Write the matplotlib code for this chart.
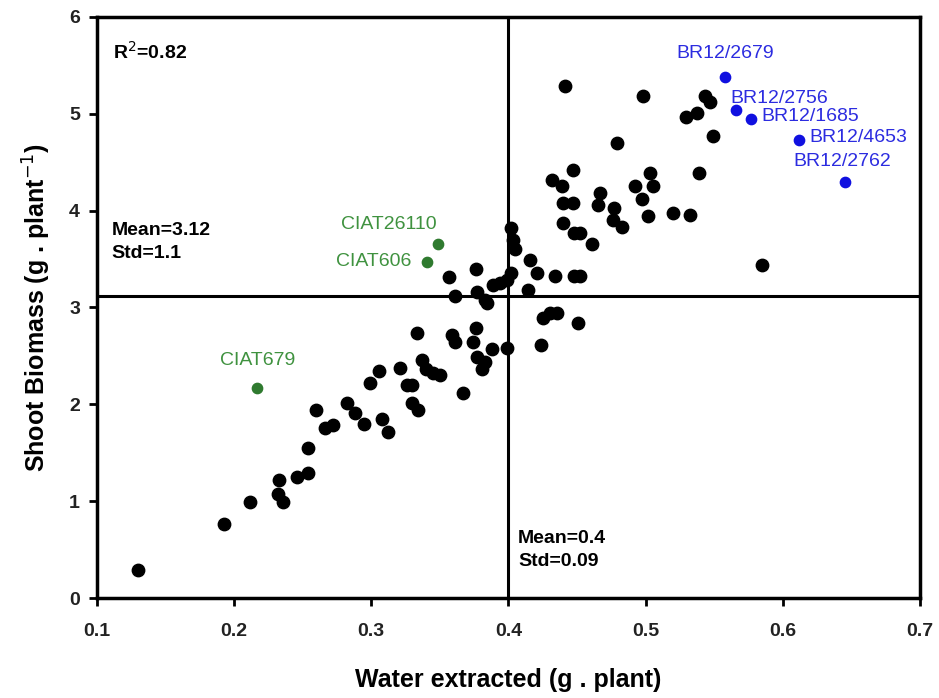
import matplotlib
matplotlib.use("Agg")
import matplotlib.pyplot as plt

plt.rcParams['font.family'] = ['Liberation Sans', 'DejaVu Sans']

# Datos: agua extraida (g/planta) y biomasa aerea (g/planta)
water = [0.130, 0.193, 0.212, 0.232, 0.236, 0.233, 0.246, 0.254, 0.254, 0.260,
         0.266, 0.272, 0.282, 0.288, 0.295, 0.299, 0.306, 0.308, 0.312, 0.321,
         0.326, 0.330, 0.330, 0.334, 0.333, 0.337, 0.340, 0.345, 0.350, 0.359,
         0.361, 0.367, 0.376, 0.374, 0.377, 0.383, 0.381, 0.388, 0.399, 0.357,
         0.376, 0.361, 0.377, 0.383, 0.389, 0.394, 0.399, 0.402, 0.402, 0.403,
         0.405, 0.416, 0.414, 0.421, 0.434, 0.448, 0.452, 0.424, 0.425, 0.430,
         0.435, 0.451, 0.441, 0.498, 0.543, 0.547, 0.529, 0.537, 0.549, 0.479,
         0.447, 0.432, 0.439, 0.440, 0.447, 0.440, 0.448, 0.452, 0.467, 0.465,
         0.477, 0.476, 0.483, 0.492, 0.497, 0.503, 0.505, 0.502, 0.520, 0.532,
         0.539, 0.461, 0.585, 0.384]
biomass = [0.29, 0.77, 0.99, 1.07, 0.99, 1.22, 1.25, 1.29, 1.55, 1.94,
           1.76, 1.79, 2.01, 1.91, 1.80, 2.22, 2.34, 1.85, 1.71, 2.38,
           2.20, 2.20, 2.01, 1.94, 2.74, 2.46, 2.36, 2.32, 2.30, 2.72,
           2.64, 2.12, 2.79, 2.64, 2.49, 2.44, 2.36, 2.57, 2.58, 3.31,
           3.40, 3.12, 3.16, 3.08, 3.23, 3.25, 3.28, 3.36, 3.82, 3.70,
           3.60, 3.49, 3.18, 3.36, 3.32, 3.32, 3.32, 2.61, 2.89, 2.94,
           2.94, 2.84, 5.29, 5.18, 5.18, 5.12, 4.97, 5.01, 4.77, 4.70,
           4.42, 4.32, 4.25, 4.08, 4.08, 3.87, 3.77, 3.77, 4.18, 4.06,
           4.03, 3.90, 3.83, 4.25, 4.12, 4.39, 4.25, 3.94, 3.98, 3.95,
           4.39, 3.65, 3.44, 3.05]

# Genotipos destacados
ciat_names = ['CIAT26110', 'CIAT606', 'CIAT679']
ciat_x = [0.349, 0.341, 0.217]
ciat_y = [3.65, 3.47, 2.17]

br_names = ['BR12/2679', 'BR12/2756', 'BR12/1685', 'BR12/4653', 'BR12/2762']
br_x = [0.558, 0.566, 0.577, 0.612, 0.645]
br_y = [5.38, 5.04, 4.95, 4.73, 4.29]

mean_x, std_x = 0.4, 0.09
mean_y, std_y = 3.12, 1.1
r2 = 0.82

fig = plt.figure(figsize=(9.39, 6.98), dpi=100)
ax = fig.add_axes([0.103, 0.143, 0.877, 0.833])

ax.axvline(mean_x, color='black', lw=2.2, zorder=1)
ax.axhline(mean_y, color='black', lw=2.2, zorder=1)

ax.scatter(water, biomass, s=80, color='black', zorder=3)
ax.scatter(ciat_x, ciat_y, s=55, color='#2f7a2f', zorder=3)
ax.scatter(br_x, br_y, s=55, color='#1010e0', zorder=3)

# etiquetas de genotipos
green_lab = '#3f923f'
blue_lab = '#2c2ce0'
lab_fs = 14
ax.text(ciat_x[0] - 0.001, ciat_y[0] + 0.12, ciat_names[0], color=green_lab,
        fontsize=lab_fs, ha='right', va='bottom')
ax.text(ciat_x[1] - 0.012, ciat_y[1], ciat_names[1], color=green_lab,
        fontsize=lab_fs, ha='right', va='center')
ax.text(ciat_x[2], ciat_y[2] + 0.2, ciat_names[2], color=green_lab,
        fontsize=lab_fs, ha='center', va='bottom')

ax.text(br_x[0], br_y[0] + 0.15, br_names[0], color=blue_lab,
        fontsize=lab_fs, ha='center', va='bottom')
ax.text(br_x[1] - 0.004, br_y[1] + 0.03, br_names[1], color=blue_lab,
        fontsize=lab_fs, ha='left', va='bottom')
ax.text(br_x[2] + 0.007, br_y[2] + 0.02, br_names[2], color=blue_lab,
        fontsize=lab_fs, ha='left', va='center')
ax.text(br_x[3] + 0.007, br_y[3] + 0.02, br_names[3], color=blue_lab,
        fontsize=lab_fs, ha='left', va='center')
ax.text(br_x[4] - 0.002, br_y[4] + 0.13, br_names[4], color=blue_lab,
        fontsize=lab_fs, ha='center', va='bottom')

# estadisticas
ax.text(0.112, 5.64, 'R$^2$=%.2f' % r2, fontsize=14, fontweight='bold', va='center')
ax.text(0.111, 3.88, 'Mean=%.2f\nStd=%.1f' % (mean_y, std_y), fontsize=14,
        fontweight='bold', va='top', linespacing=1.45)
ax.text(0.407, 0.70, 'Mean=%.1f\nStd=%.2f' % (mean_x, std_x), fontsize=14,
        fontweight='bold', va='top', linespacing=1.45)

ax.set_xlim(0.1, 0.7)
ax.set_ylim(0, 6)
ax.set_xticks([0.1, 0.2, 0.3, 0.4, 0.5, 0.6, 0.7])
ax.set_yticks([0, 1, 2, 3, 4, 5, 6])
ax.set_xticklabels(['0.1', '0.2', '0.3', '0.4', '0.5', '0.6', '0.7'])
ax.tick_params(direction='out', length=6, width=2, labelsize=14)
ax.tick_params(axis='x', pad=12)
ax.tick_params(axis='y', pad=6)
for lab in ax.get_xticklabels() + ax.get_yticklabels():
    lab.set_fontweight('bold')
    lab.set_color('#222222')
for sp in ax.spines.values():
    sp.set_linewidth(2.5)

ax.set_xlabel('Water extracted (g . plant)', fontsize=18, fontweight='bold', labelpad=20)
ax.set_ylabel('Shoot Biomass (g . plant$^{-1}$)', fontsize=18, fontweight='bold', labelpad=12)

fig.savefig('out.png', dpi=100)
